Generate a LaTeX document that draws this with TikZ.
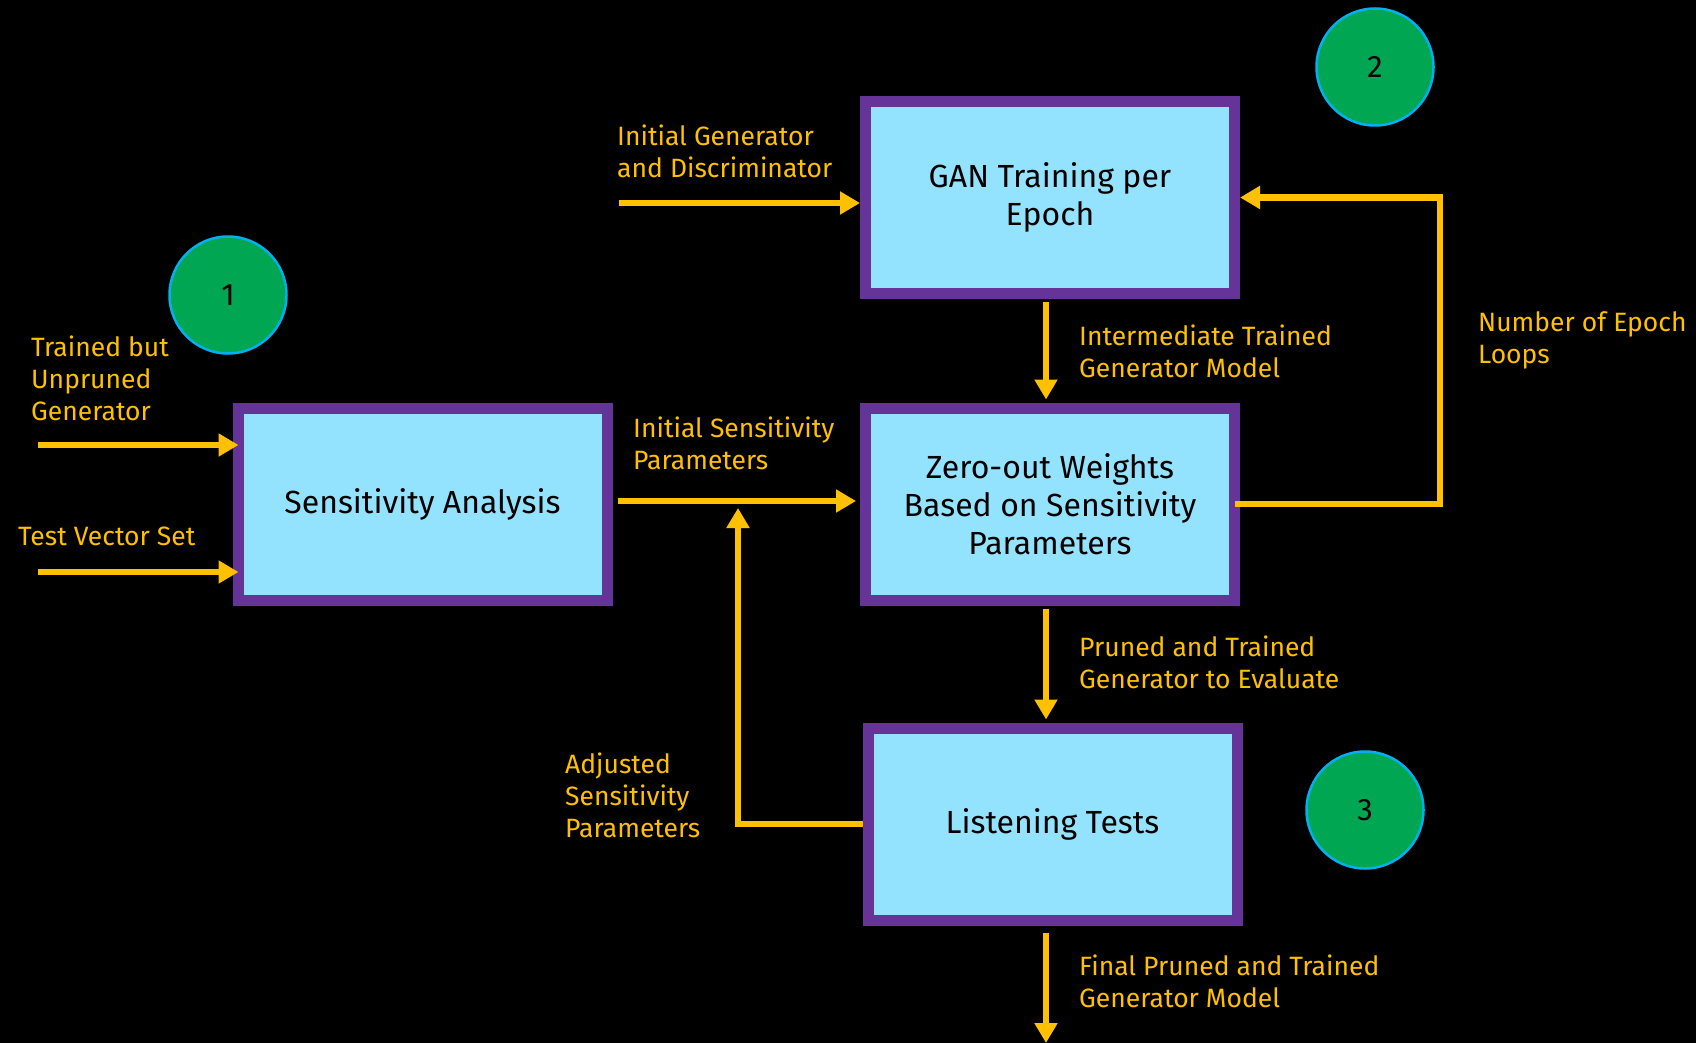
\documentclass[tikz,border=0pt]{standalone}
\usepackage{fontspec}
\setmainfont{Fira Sans}
\usetikzlibrary{arrows.meta}
\definecolor{boxfill}{HTML}{94E3FE}
\definecolor{boxline}{HTML}{663399}
\definecolor{flowcol}{HTML}{FFC000}
\definecolor{dotfill}{HTML}{00A651}
\definecolor{dotline}{HTML}{00B0F0}

\begin{document}
\begin{tikzpicture}[x=1pt, y=-1pt,
    block/.style={draw=boxline, fill=boxfill, line width=11pt,
      minimum width=369pt, minimum height=192pt, align=center,
      text=black, font=\fontsize{32}{38}\selectfont},
    marker/.style={circle, draw=dotline, fill=dotfill, line width=2.5pt,
      minimum size=117pt, text=black, font=\fontsize{31}{34}\selectfont},
    flow/.style={draw=flowcol, line width=6.5pt,
      -{Triangle[length=20pt,width=22pt]}},
    lbl/.style={anchor=north west, inner sep=0pt, align=left,
      text=flowcol, font=\fontsize{26.5}{32}\selectfont}]

    % background
    \fill[black] (0,0) rectangle (1696,1043);
    \useasboundingbox (0,0) rectangle (1696,1043);

    % blocks
    \node[block] (sens) at (422.5,504.5) {Sensitivity Analysis};
    \node[block] (gan) at (1050,197.5) {GAN Training per\\Epoch};
    \node[block] (zero) at (1050,504) {Zero-out Weights\\Based on Sensitivity\\Parameters};
    \node[block] (listen) at (1052.5,824) {Listening Tests};

    % step markers
    \node[marker] (one) at (228,295) {1};
    \node[marker] (two) at (1375,67) {2};
    \node[marker] (three) at (1365,810) {3};

    % free ends
    \coordinate (trainedin) at (38,445);
    \coordinate (testin) at (38,572);
    \coordinate (ganin) at (619,203);
    \coordinate (merge) at (738,508);
    \coordinate (out) at (1046,1043);

    % connectors
    \draw[flow, shorten >=-6pt] (trainedin) -- (sens.west |- trainedin);
    \draw[flow, shorten >=-6pt] (testin) -- (sens.west |- testin);
    \draw[flow] (ganin) -- (gan.west |- ganin);
    \draw[flow, shorten <=5pt, shorten >=4pt] (sens.east |- 0,501) -- (zero.west |- 0,501);
    \draw[flow, shorten <=3pt, shorten >=3pt] (gan.south -| out) -- (zero.north -| out);
    \draw[flow, shorten <=3pt, shorten >=3pt] (zero.south -| out) -- (listen.north -| out);
    \draw[flow, shorten <=7pt] (listen.south -| out) -- (out);
    \draw[flow, shorten <=-5pt] (zero.east) -- (1440,504) |- (gan.east);
    \draw[flow] (listen.west) -| (merge);

    % labels
    \node[lbl] (lganin) at (617,125) {Initial Generator\\and Discriminator};
    \node[lbl] (ltrained) at (31,336) {Trained but\\Unpruned\\Generator};
    \node[lbl] (ltest) at (18,527) {Test Vector Set};
    \node[lbl] (linit) at (633,417) {Initial Sensitivity\\Parameters};
    \node[lbl] (linter) at (1079,325) {Intermediate Trained\\Generator Model};
    \node[lbl] (lepoch) at (1478,311) {Number of Epoch\\Loops};
    \node[lbl] (lpruned) at (1079,636) {Pruned and Trained\\Generator to Evaluate};
    \node[lbl] (ladj) at (565,753) {Adjusted\\Sensitivity\\Parameters};
    \node[lbl] (lfinal) at (1079,955) {Final Pruned and Trained\\Generator Model};
\end{tikzpicture}
\end{document}
